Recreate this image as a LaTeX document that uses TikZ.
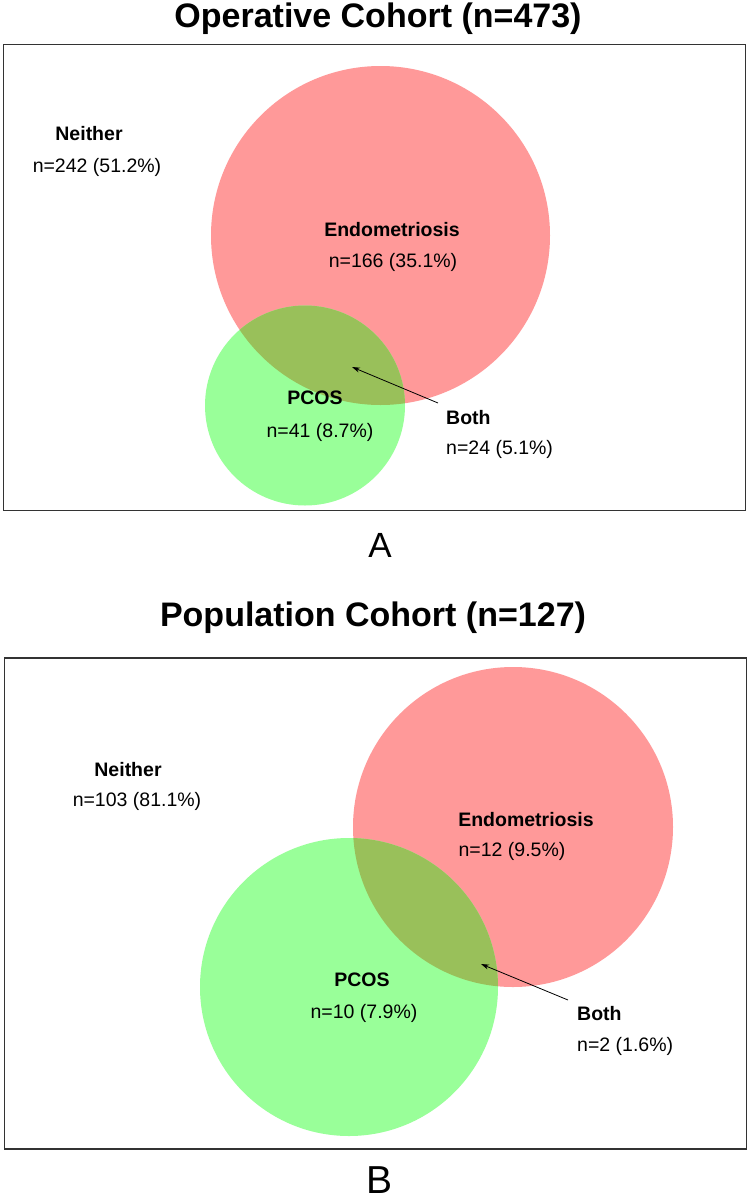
\documentclass[tikz,border=0pt]{standalone}
\usepackage{fontspec}
\setmainfont{Liberation Sans}
\usetikzlibrary{arrows.meta}
\definecolor{endopink}{RGB}{255,153,153}
\definecolor{pcosgreen}{RGB}{153,255,153}
\definecolor{bothgreen}{RGB}{153,192,90}
\definecolor{framegray}{RGB}{51,51,51}
\tikzset{
    lab/.style={inner sep=0pt,font=\fontsize{19.5}{22}\selectfont},
    labb/.style={inner sep=0pt,font=\fontsize{19.5}{22}\selectfont\bfseries},
    ttl/.style={inner sep=0pt,font=\fontsize{34}{40}\selectfont\bfseries},
    panel/.style={draw=framegray,line width=1.2pt},
    pointer/.style={-{Stealth[length=8pt,width=5pt]},line width=0.8pt}
}

\begin{document}
\begin{tikzpicture}[x=1pt,y=-1pt]
    \useasboundingbox (0,0) rectangle (750,1202);
    \fill[white] (0,0) rectangle (750,1202);

    %Operative cohort (A)
    \node[ttl,anchor=base] (titleA) at (378,27) {Operative Cohort (n=473)};
    \coordinate (endoA) at (380.5,235.5);
    \coordinate (pcosA) at (305,405.5);
    \fill[endopink] (endoA) circle (169.5pt);
    \fill[pcosgreen] (pcosA) circle (100pt);
    \begin{scope}
        \clip (endoA) circle (169.5pt);
        \fill[bothgreen] (pcosA) circle (100pt);
    \end{scope}
    \draw[panel] (3.5,44.5) rectangle (745.5,510.5);

    \node[labb,anchor=base] (neitherA) at (89,140) {Neither};
    \node[lab,anchor=base] (neitherAn) at (97,172) {n=242 (51.2\%)};
    \node[labb,anchor=base] (endoAl) at (392,236) {Endometriosis};
    \node[lab,anchor=base] (endoAn) at (393,267) {n=166 (35.1\%)};
    \node[labb,anchor=base] (pcosAl) at (315,404) {PCOS};
    \node[lab,anchor=base] (pcosAn) at (320,437) {n=41 (8.7\%)};
    \node[labb,anchor=base west] (bothA) at (446,424) {Both};
    \node[lab,anchor=base west] (bothAn) at (446,454) {n=24 (5.1\%)};
    \coordinate (bothA-tail) at (438,403);
    \coordinate (bothA-tip) at (352,367);
    \draw[pointer] (bothA-tail) -- (bothA-tip);

    \node[inner sep=0pt,anchor=base,font=\fontsize{35}{40}\selectfont] (tagA) at (380,557) {A};

    %Population cohort (B)
    \node[ttl,anchor=base] (titleB) at (373,626) {Population Cohort (n=127)};
    \coordinate (endoB) at (513,827);
    \coordinate (pcosB) at (349,987);
    \fill[endopink] (endoB) circle (160pt);
    \fill[pcosgreen] (pcosB) circle (149pt);
    \begin{scope}
        \clip (endoB) circle (160pt);
        \fill[bothgreen] (pcosB) circle (149pt);
    \end{scope}
    \draw[panel] (4.5,658) rectangle (746.5,1149);

    \node[labb,anchor=base] (neitherB) at (128,776) {Neither};
    \node[lab,anchor=base] (neitherBn) at (137,806) {n=103 (81.1\%)};
    \node[labb,anchor=base] (endoBl) at (526,826) {Endometriosis};
    \node[lab,anchor=base] (endoBn) at (512,856) {n=12 (9.5\%)};
    \node[labb,anchor=base] (pcosBl) at (362,986) {PCOS};
    \node[lab,anchor=base] (pcosBn) at (364,1018) {n=10 (7.9\%)};
    \node[labb,anchor=base west] (bothB) at (577,1020) {Both};
    \node[lab,anchor=base west] (bothBn) at (577,1051) {n=2 (1.6\%)};
    \coordinate (bothB-tail) at (568,1000);
    \coordinate (bothB-tip) at (481,964);
    \draw[pointer] (bothB-tail) -- (bothB-tip);

    \node[inner sep=0pt,anchor=base,font=\fontsize{39}{44}\selectfont] (tagB) at (380,1193) {B};
\end{tikzpicture}
\end{document}
